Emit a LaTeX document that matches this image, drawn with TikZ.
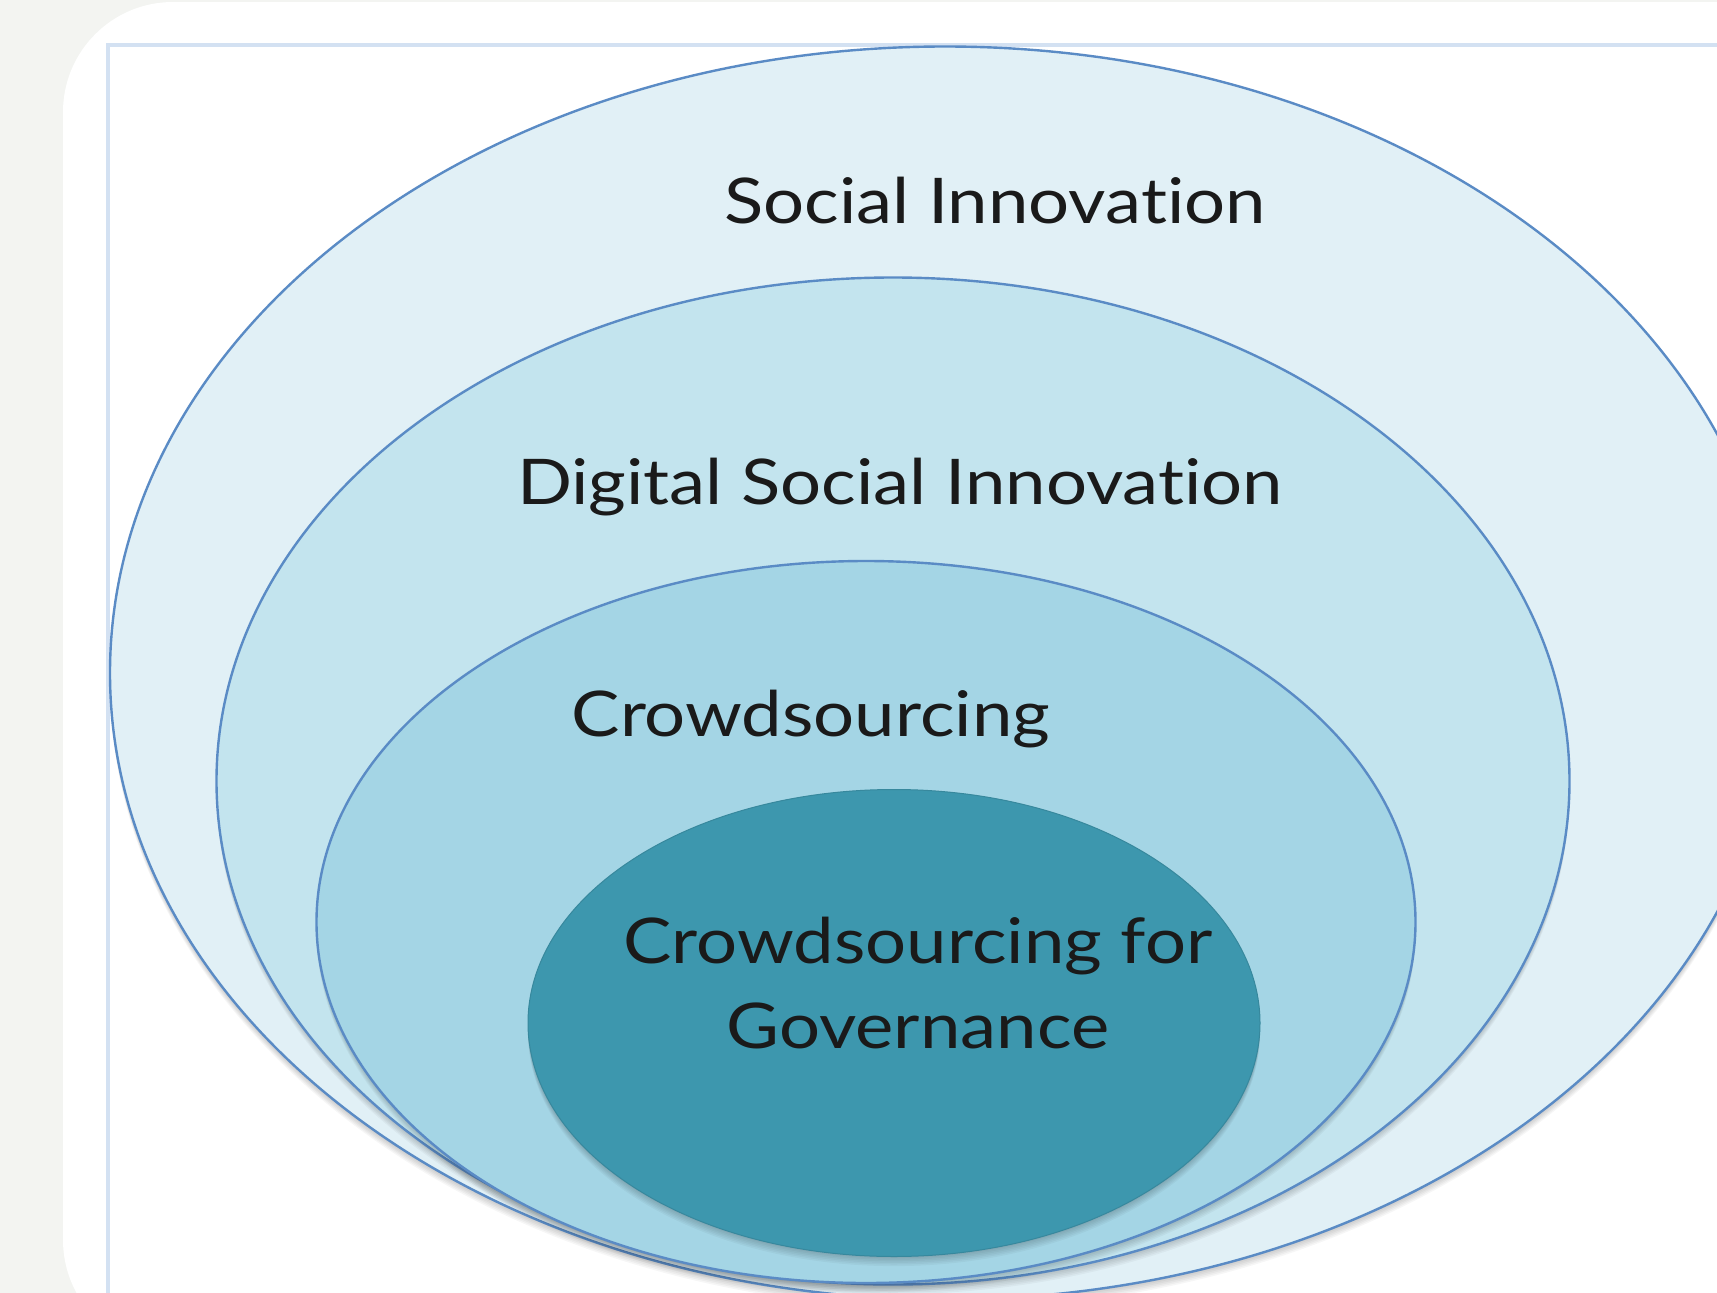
\documentclass[tikz,border=0pt]{standalone}
\usepackage{fontspec}
\setmainfont{Lato}[FakeStretch=1.15, Ligatures=NoCommon]
\usetikzlibrary{shapes.geometric}
\definecolor{bgray}{HTML}{F3F4F1}
\definecolor{framec}{HTML}{D3E1F2}
\definecolor{ringA}{HTML}{E1F0F6}
\definecolor{ringB}{HTML}{C3E4EE}
\definecolor{ringC}{HTML}{A4D5E5}
\definecolor{coreD}{HTML}{3D97AE}
\definecolor{edgeblue}{HTML}{5A8BC5}
\definecolor{txt}{HTML}{1A1A1A}
\tikzset{
  ring/.style={ellipse, draw=edgeblue, line width=2.4pt, inner sep=0pt, outer sep=0pt},
  core/.style={ellipse, draw=coreD!90!black, line width=1pt, fill=coreD, inner sep=0pt, outer sep=0pt},
  lbl/.style={text=txt, font=\fontsize{63}{85}\selectfont, anchor=base, inner sep=0pt},
}
\newcommand\softshadow[4]{%
  \foreach \k in {1,...,6}{%
    \fill[black, opacity=0.035] (#1, #2+\k*1.6) ellipse [x radius=#3pt, y radius=#4pt];
  }}
\begin{document}
\begin{tikzpicture}[x=1pt, y=-1pt]
  \useasboundingbox (0,0) rectangle (1717,1293);
  \clip (0,0) rectangle (1717,1293);
  % page background and panel
  \fill[bgray] (0,0) rectangle (1717,1293);
  \fill[white, rounded corners=110pt] (63,2) rectangle (1900,1350);
  \draw[framec, line width=4pt] (108,45) rectangle (1900,1400);
  % outer ring
  \softshadow{945}{673}{835}{626.5}
  \node[ring, fill=ringA, minimum width=1670pt, minimum height=1253pt] (si) at (945,673) {};
  % second ring
  \softshadow{893}{781}{676.5}{503.5}
  \node[ring, fill=ringB, minimum width=1353pt, minimum height=1007pt] (dsi) at (893,781) {};
  % third ring
  \softshadow{866}{922}{549.5}{361}
  \node[ring, fill=ringC, minimum width=1099pt, minimum height=722pt] (cs) at (866,922) {};
  % core
  \softshadow{894}{1023}{366}{233.5}
  \node[core, minimum width=732pt, minimum height=467pt] (cg) at (894,1023) {};
  % labels
  \node[lbl] (tSI) at (995,223) {Social Innovation};
  \node[lbl] (tDSI) at (900,504) {Digital Social Innovation};
  \node[lbl] (tCS) at (811,736) {Crowdsourcing};
  \node[lbl, align=center] (tCG) at (918,1048) {Crowdsourcing for\\Governance};
\end{tikzpicture}
\end{document}
